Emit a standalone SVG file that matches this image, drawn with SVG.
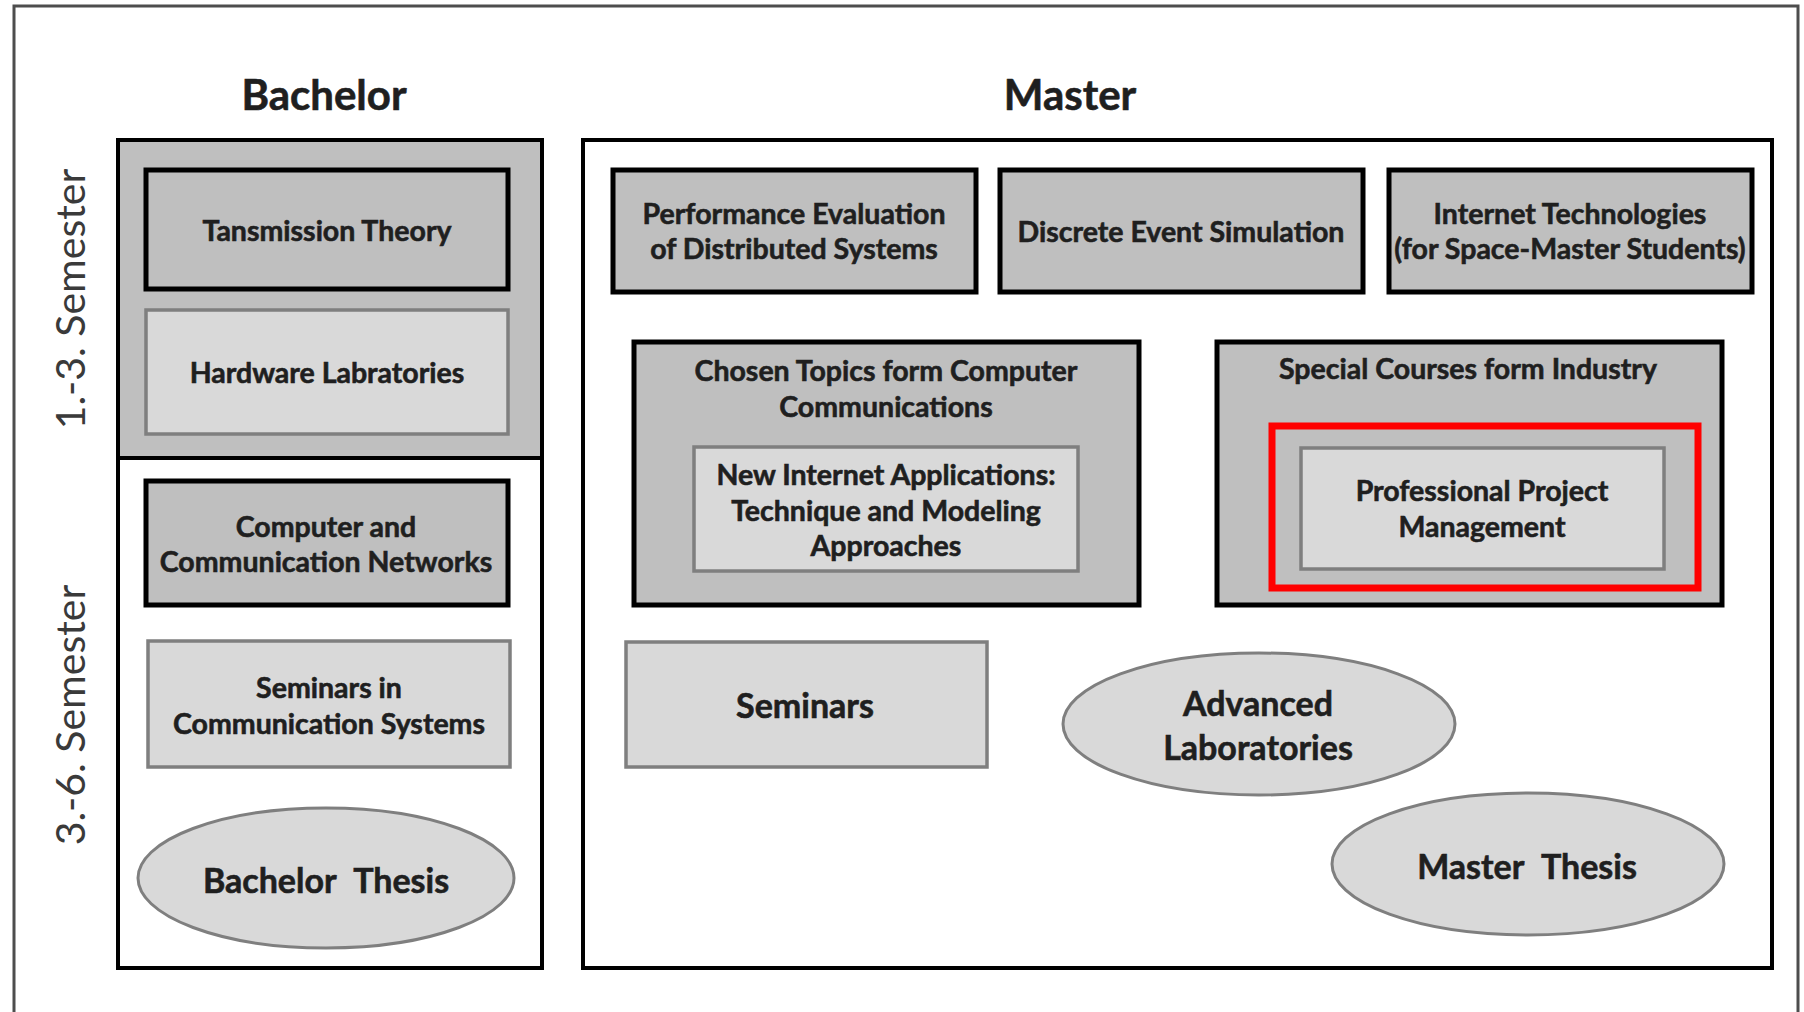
<svg xmlns="http://www.w3.org/2000/svg" width="1804" height="1012" viewBox="0 0 1804 1012">
<style>
.frame{fill:#fff;stroke:#4d4d4d;stroke-width:3}
.cont{fill:#fff;stroke:#000;stroke-width:4}
.contg{fill:#bfbfbf;stroke:#000;stroke-width:4}
.dark{fill:#bfbfbf;stroke:#000;stroke-width:5}
.light{fill:#d9d9d9;stroke:#7f7f7f;stroke-width:3.5}
.ell{fill:#d9d9d9;stroke:#7f7f7f;stroke-width:3}
.hl{fill:none;stroke:#ff0000;stroke-width:7}
text{font-family:Lato,"Liberation Sans",sans-serif;font-weight:bold;fill:#1f1f1f;stroke:#1f1f1f;stroke-width:0.6;text-anchor:middle;dominant-baseline:central}
.s{font-size:28.5px}
.m{font-size:34px}
.th{word-spacing:10px}
.h{font-size:42px}
.sem{font-weight:normal;font-size:41px;fill:#3a3a3a;stroke:none}
</style>
<rect x="14" y="6" width="1784" height="1014" class="frame"/>
<g id="titles">
<text x="324" y="94" class="h">Bachelor</text>
<text x="1070" y="94" class="h">Master</text>
<text class="sem" transform="translate(69,299) rotate(-90)">1.-3. Semester</text>
<text class="sem" transform="translate(69,715) rotate(-90)">3.-6. Semester</text>
</g>
<g id="bachelor">
<rect x="118" y="140" width="424" height="318" class="contg"/>
<rect x="118" y="458" width="424" height="510" class="cont"/>
</g>
<g id="master">
<rect x="583" y="140" width="1189" height="828" class="cont"/>
</g>
<g id="tansmission-theory">
<rect x="146" y="170" width="362" height="119" class="dark"/>
<text x="327" y="230" class="s">Tansmission Theory</text>
</g>
<g id="hardware-labratories">
<rect x="146" y="310" width="362" height="124" class="light"/>
<text x="327" y="372" class="s">Hardware Labratories</text>
</g>
<g id="computer-networks">
<rect x="146" y="481" width="362" height="124" class="dark"/>
<text x="326" y="526" class="s">Computer and</text>
<text x="326" y="561" class="s">Communication Networks</text>
</g>
<g id="seminars-comm">
<rect x="148" y="641" width="362" height="126" class="light"/>
<text x="329" y="687" class="s">Seminars in</text>
<text x="329" y="723" class="s">Communication Systems</text>
</g>
<g id="bachelor-thesis">
<ellipse cx="326" cy="878" rx="188" ry="70" class="ell"/>
<text x="326" y="879" class="m th">Bachelor Thesis</text>
</g>
<g id="performance-evaluation">
<rect x="613" y="170" width="363" height="122" class="dark"/>
<text x="794" y="213" class="s">Performance Evaluation</text>
<text x="794" y="248" class="s">of Distributed Systems</text>
</g>
<g id="discrete-event-simulation">
<rect x="1000" y="170" width="363" height="122" class="dark"/>
<text x="1181" y="231" class="s">Discrete Event Simulation</text>
</g>
<g id="internet-technologies">
<rect x="1389" y="170" width="363" height="122" class="dark"/>
<text x="1570" y="213" class="s">Internet Technologies</text>
<text x="1570" y="248" class="s">(for Space-Master Students)</text>
</g>
<g id="chosen-topics">
<rect x="634" y="342" width="505" height="263" class="dark"/>
<text x="886" y="370" class="s">Chosen Topics form Computer</text>
<text x="886" y="406" class="s">Communications</text>
</g>
<g id="new-internet-applications">
<rect x="694" y="447" width="384" height="124" class="light"/>
<text x="886" y="474" class="s">New Internet Applications:</text>
<text x="886" y="510" class="s">Technique and Modeling</text>
<text x="886" y="545" class="s">Approaches</text>
</g>
<g id="special-courses">
<rect x="1217" y="342" width="505" height="263" class="dark"/>
<text x="1468" y="368" class="s">Special Courses form Industry</text>
</g>
<g id="professional-project-management">
<rect x="1301" y="448" width="363" height="121" class="light"/>
<text x="1482" y="490" class="s">Professional Project</text>
<text x="1482" y="526" class="s">Management</text>
<rect x="1272" y="426" width="426" height="162" class="hl"/>
</g>
<g id="seminars">
<rect x="626" y="642" width="361" height="125" class="light"/>
<text x="805" y="704" class="m">Seminars</text>
</g>
<g id="advanced-laboratories">
<ellipse cx="1259" cy="724" rx="196" ry="71" class="ell"/>
<text x="1258" y="702" class="m">Advanced</text>
<text x="1258" y="746" class="m">Laboratories</text>
</g>
<g id="master-thesis">
<ellipse cx="1528" cy="864" rx="196" ry="71" class="ell"/>
<text x="1527" y="865" class="m th">Master Thesis</text>
</g>
<g id="connectors"/>
</svg>
